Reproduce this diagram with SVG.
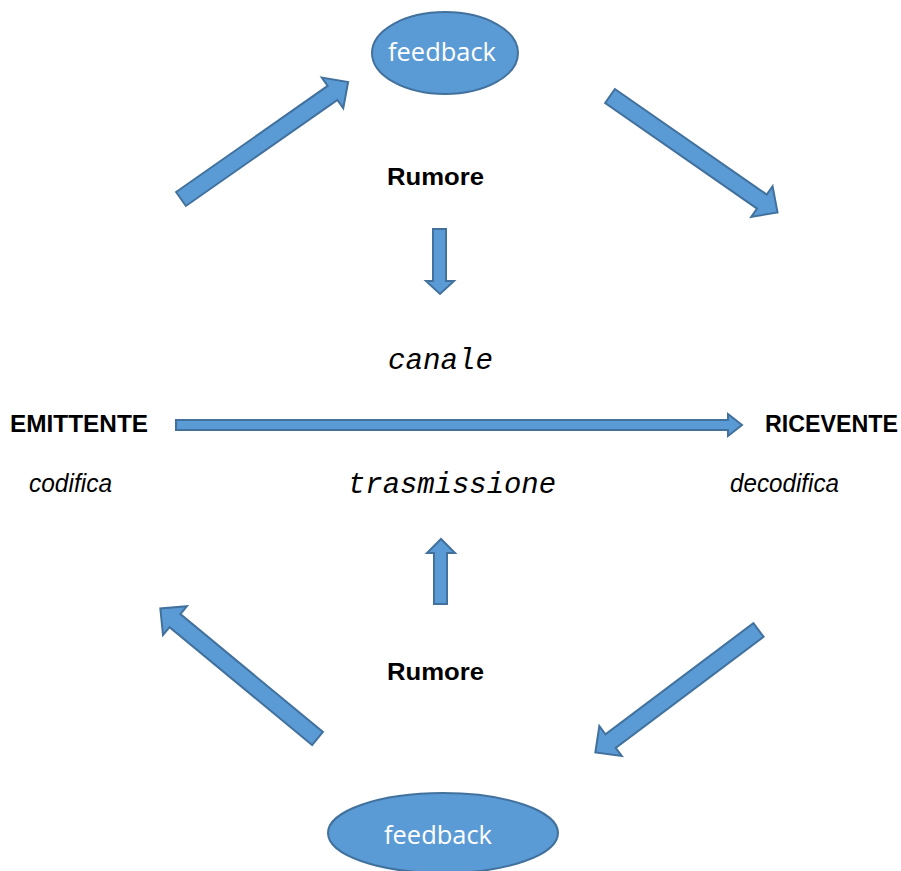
<svg xmlns="http://www.w3.org/2000/svg" width="901" height="871" viewBox="0 0 901 871">
<style>
.sh{fill:#5B9BD5;stroke:#41719C;stroke-width:2;stroke-linejoin:miter}
.lbl{font-family:"Liberation Sans",Arial,sans-serif;font-size:24px;fill:#000}
.b{font-weight:bold}
.i{font-style:italic;font-size:25px}
.mono{font-family:"Liberation Mono","Courier New",monospace;font-style:italic;font-size:29px;fill:#000}
.fb{font-family:"Open Sans","Liberation Sans",sans-serif;font-size:25px;fill:#fff}
</style>
<defs>
<path id="diag" d="M0,-8.5 L185,-8.5 L185,-18.7 L204,0 L185,18.7 L185,8.5 L0,8.5 Z"/>
</defs>
<rect width="901" height="871" fill="#fff"/>
<g id="connectors">
<use href="#diag" class="sh" transform="translate(181,199) rotate(-35)"/>
<use href="#diag" class="sh" transform="translate(610,96) rotate(34.8)"/>
<use href="#diag" class="sh" transform="translate(317.5,738.5) rotate(-140.4)"/>
<use href="#diag" class="sh" transform="translate(758.5,630) rotate(143.1)"/>
<path class="sh" d="M176,420 L728,420 L728,414 L742,425 L728,436 L728,430 L176,430 Z"/>
<path class="sh" d="M433,229 L446,229 L446,281 L454,281 L440,294 L426,281 L433,281 Z"/>
<path class="sh" d="M434,604 L447,604 L447,553 L455,553 L441,539 L427,553 L434,553 Z"/>
</g>
<g id="feedback-top">
<ellipse class="sh" cx="445" cy="53" rx="73" ry="41"/>
<text class="fb" x="388" y="61" textLength="108" lengthAdjust="spacingAndGlyphs">feedback</text>
</g>
<g id="feedback-bottom">
<ellipse class="sh" cx="443" cy="833" rx="115" ry="40"/>
<text class="fb" x="384" y="844" textLength="108" lengthAdjust="spacingAndGlyphs">feedback</text>
</g>
<g id="rumore-top"><text class="lbl b" x="387" y="185" textLength="97" lengthAdjust="spacingAndGlyphs">Rumore</text></g>
<g id="rumore-bottom"><text class="lbl b" x="387" y="680" textLength="97" lengthAdjust="spacingAndGlyphs">Rumore</text></g>
<g id="emittente">
<text class="lbl b" x="10" y="432" textLength="138" lengthAdjust="spacingAndGlyphs">EMITTENTE</text>
<text class="lbl i" x="29" y="492" textLength="83" lengthAdjust="spacingAndGlyphs">codifica</text>
</g>
<g id="ricevente">
<text class="lbl b" x="765" y="432" textLength="133" lengthAdjust="spacingAndGlyphs">RICEVENTE</text>
<text class="lbl i" x="730" y="492" textLength="109" lengthAdjust="spacingAndGlyphs">decodifica</text>
</g>
<g id="canale"><text class="mono" x="388" y="369" textLength="105" lengthAdjust="spacingAndGlyphs">canale</text></g>
<g id="trasmissione"><text class="mono" x="348" y="493" textLength="208" lengthAdjust="spacingAndGlyphs">trasmissione</text></g>
</svg>
